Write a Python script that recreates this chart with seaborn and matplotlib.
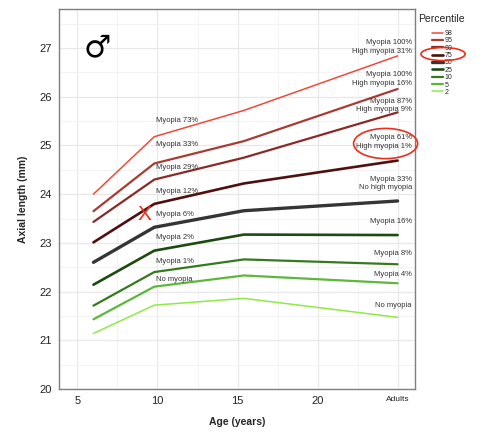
import numpy as np
import pandas as pd
import matplotlib
matplotlib.use("Agg")
import matplotlib.pyplot as plt
import seaborn as sns
from matplotlib.patches import Ellipse

# ages where each percentile curve was measured (adults plotted at 25)
ages = [6, 9.8, 15.4, 25]
percentiles = ["98", "95", "90", "75", "50", "25", "10", "5", "2"]
axial = {
    "98": [24.00, 25.18, 25.72, 26.84],
    "95": [23.65, 24.63, 25.09, 26.16],
    "90": [23.43, 24.30, 24.75, 25.68],
    "75": [23.01, 23.80, 24.22, 24.69],
    "50": [22.60, 23.32, 23.66, 23.86],
    "25": [22.14, 22.84, 23.17, 23.16],
    "10": [21.71, 22.40, 22.66, 22.56],
    "5": [21.43, 22.10, 22.33, 22.17],
    "2": [21.14, 21.72, 21.86, 21.47],
}
colors = {
    "98": "#ee4a3a", "95": "#a83c33", "90": "#8a2a25", "75": "#4f1010",
    "50": "#353535", "25": "#1e4a0f", "10": "#357a1e", "5": "#5bb83a",
    "2": "#8eea45",
}
widths = {
    "98": 1.1, "95": 1.6, "90": 1.6, "75": 1.9, "50": 2.4,
    "25": 1.9, "10": 1.6, "5": 1.6, "2": 1.1,
}

# labels next to age ~10 (y positions in mm)
left_text = ["Myopia 73%", "Myopia 33%", "Myopia 29%", "Myopia 12%",
             "Myopia 6%", "Myopia 2%", "Myopia 1%", "No myopia"]
left_y = [25.51, 25.02, 24.54, 24.06, 23.58, 23.11, 22.62, 22.25]
# labels at adults
right_text = ["Myopia 100%\nHigh myopia 31%", "Myopia 100%\nHigh myopia 16%",
              "Myopia 87%\nHigh myopia 9%", "Myopia 61%\nHigh myopia 1%",
              "Myopia 33%\nNo high myopia", "Myopia 16%", "Myopia 8%",
              "Myopia 4%", "No myopia"]
right_y = [27.02, 26.37, 25.82, 25.07, 24.22, 23.43, 22.79, 22.34, 21.72]

xticks = [5, 10, 15, 20, 25]
xticklabels = ["5", "10", "15", "20", "Adults"]

rows = []
for p in percentiles:
    for a, v in zip(ages, axial[p]):
        rows.append({"age": a, "axial": v, "pct": p})
df = pd.DataFrame(rows)

sns.set_theme(style="white")
plt.rcParams["font.family"] = ["Liberation Sans", "DejaVu Sans"]

fig = plt.figure(figsize=(4.8, 4.36), dpi=100)
ax = fig.add_axes([0.123, 0.108, 0.742, 0.871])

for p in percentiles:
    sns.lineplot(data=df[df["pct"] == p], x="age", y="axial", color=colors[p],
                 linewidth=widths[p], label=p, ax=ax, zorder=3)

ax.set_xticks(xticks)
ax.set_xticklabels(xticklabels)
ax.set_xticks(np.arange(7.5, 26, 5), minor=True)
ax.set_yticks(range(20, 28))
ax.set_yticks(np.arange(20.5, 27.6, 1), minor=True)
ax.set_xlim(3.85, 26.1)
ax.set_ylim(20, 27.8)
ax.grid(which="major", color="#e8e8e8", linewidth=0.9)
ax.grid(which="minor", color="#f1f1f1", linewidth=0.6)
ax.set_axisbelow(True)
for s in ax.spines.values():
    s.set_color("#7f7f7f")
    s.set_linewidth(1.0)
ax.tick_params(axis="both", which="major", direction="out", length=3,
               color="#555555", labelsize=8, labelcolor="#222222", pad=2)
ax.tick_params(axis="both", which="minor", length=0)
for lbl in ax.get_xticklabels():
    if lbl.get_text() == "Adults":
        lbl.set_fontsize(6)
ax.set_xlabel("Age (years)", fontsize=7.5, fontweight="bold", labelpad=8)
ax.set_ylabel("Axial length (mm)", fontsize=7.5, fontweight="bold", labelpad=8)

for t, y in zip(left_text, left_y):
    ax.text(9.9, y, t, fontsize=5.5, ha="left", va="center", color="#333333", zorder=4)
for t, y in zip(right_text, right_y):
    ax.text(25.9, y, t, fontsize=5.5, ha="right", va="center", color="#333333",
            linespacing=1.35, zorder=4)

ax.text(6.25, 27.0, "\u2642", fontsize=22, ha="center", va="center",
        family="DejaVu Sans", color="black")

# red highlights
ax.text(9.19, 23.62, "X", fontsize=15, color="#ee2a18", ha="center",
        va="center_baseline", zorder=5)
ax.add_patch(Ellipse((24.25, 25.04), 4.0, 0.62, fill=False, edgecolor="#e8301c",
                     linewidth=1.2, clip_on=False, zorder=5))

leg = ax.legend(loc="upper left", bbox_to_anchor=(0.899, 0.931),
                bbox_transform=fig.transFigure, frameon=False, fontsize=5,
                handlelength=1.6, handletextpad=0.3, labelspacing=0.05,
                borderaxespad=0, borderpad=0)
fig.text(0.871, 1 - 19 / 436, "Percentile", fontsize=7.5, ha="left", va="center",
         color="#222222")
fig.add_artist(Ellipse((0.923, 0.876), 0.092, 0.03, transform=fig.transFigure,
                       fill=False, edgecolor="#e8301c", linewidth=1.2))

fig.savefig("out.png", dpi=100)
